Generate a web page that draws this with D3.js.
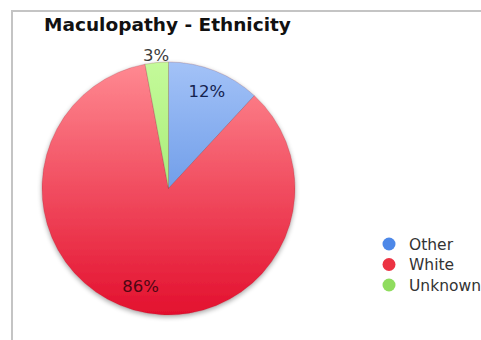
<!DOCTYPE html>
<html>
<head>
<meta charset="utf-8">
<script src="https://cdn.jsdelivr.net/npm/d3@7"></script>
<style>
  html, body { margin: 0; padding: 0; background: #fff; }
  svg { display: block; font-family: "DejaVu Sans", Verdana, sans-serif; }
</style>
</head>
<body>
<svg id="chart" width="481" height="340"></svg>
<script>
// Maculopathy patients by ethnicity (percent)
const categories = ["Other", "White", "Unknown"];
const values = [12, 86, 3];
const labels = ["12%", "86%", "3%"];
const title = "Maculopathy - Ethnicity";

const svg = d3.select("#chart");
const W = 481, H = 340;
const cx = 168.5, cy = 188.5, R = 126.5;

const palette = {
  Other:   { top: "#a3c2f7", bottom: "#3f7bdc", key: "#4d88e8", text: "#14224e" },
  White:   { top: "#ff8a92", bottom: "#e3102e", key: "#ec3343", text: "#4e0612" },
  Unknown: { top: "#c4fa9a", bottom: "#8fe05a", key: "#8fdc5e", text: "#3a3a3a" }
};

const defs = svg.append("defs");
categories.forEach(c => {
  const g = defs.append("linearGradient")
    .attr("id", "grad-" + c)
    .attr("gradientUnits", "userSpaceOnUse")
    .attr("x1", 0).attr("y1", -R).attr("x2", 0).attr("y2", R);
  g.append("stop").attr("offset", "0%").attr("stop-color", palette[c].top);
  g.append("stop").attr("offset", "100%").attr("stop-color", palette[c].bottom);
});
const shadow = defs.append("filter").attr("id", "shadow")
  .attr("x", "-10%").attr("y", "-10%").attr("width", "120%").attr("height", "125%");
shadow.append("feGaussianBlur").attr("in", "SourceAlpha").attr("stdDeviation", 2.5).attr("result", "b");
shadow.append("feOffset").attr("in", "b").attr("dy", 2).attr("result", "o");
shadow.append("feComponentTransfer").attr("in", "o").attr("result", "s")
  .append("feFuncA").attr("type", "linear").attr("slope", 0.35);
const merge = shadow.append("feMerge");
merge.append("feMergeNode").attr("in", "s");
merge.append("feMergeNode").attr("in", "SourceGraphic");

// frame (top and left edges)
svg.append("path")
  .attr("d", `M12,${H} L12,11 L${W},11`)
  .attr("fill", "none").attr("stroke", "#c4c4c4").attr("stroke-width", 2);

svg.append("text")
  .attr("x", cx - 1).attr("y", 31)
  .attr("text-anchor", "middle")
  .attr("font-weight", "bold").attr("font-size", 18.5)
  .attr("fill", "#111")
  .text(title);

const data = categories.map((c, i) => ({ cat: c, value: values[i], label: labels[i] }));
const pie = d3.pie().sort(null).value(d => d.value);
const arcs = pie(data);
const arc = d3.arc().innerRadius(0).outerRadius(R);

const g = svg.append("g").attr("transform", `translate(${cx},${cy})`);
g.append("g").attr("filter", "url(#shadow)")
  .selectAll("path").data(arcs).join("path")
  .attr("d", arc)
  .attr("fill", d => `url(#grad-${d.data.cat})`)
  .attr("stroke", "rgba(120,40,50,0.35)")
  .attr("stroke-width", 0.6);

// percentage labels: inside for large slices, outside for the thin one
const labelPos = d => {
  const a = (d.startAngle + d.endAngle) / 2;
  const frac = (d.endAngle - d.startAngle) / (2 * Math.PI);
  const r = frac < 0.05 ? R + 7.5 : (frac > 0.5 ? R * 0.8 : R * 0.83);
  return [Math.sin(a) * r, -Math.cos(a) * r];
};
g.selectAll("text.pct").data(arcs).join("text")
  .attr("class", "pct")
  .attr("x", d => labelPos(d)[0])
  .attr("y", d => labelPos(d)[1])
  .attr("dy", "0.36em")
  .attr("text-anchor", "middle")
  .attr("font-size", 16.5)
  .attr("fill", d => palette[d.data.cat].text)
  .text(d => d.data.label);

// legend
const lg = svg.append("g").attr("transform", "translate(389,244)");
const item = lg.selectAll("g").data(categories).join("g")
  .attr("transform", (d, i) => `translate(0,${i * 20.5})`);
item.append("circle").attr("r", 6.5)
  .attr("fill", d => palette[d].key);
item.append("text").attr("x", 20).attr("dy", "0.36em")
  .attr("font-size", 15.5).attr("fill", "#333")
  .text(d => d);
</script>
</body>
</html>
